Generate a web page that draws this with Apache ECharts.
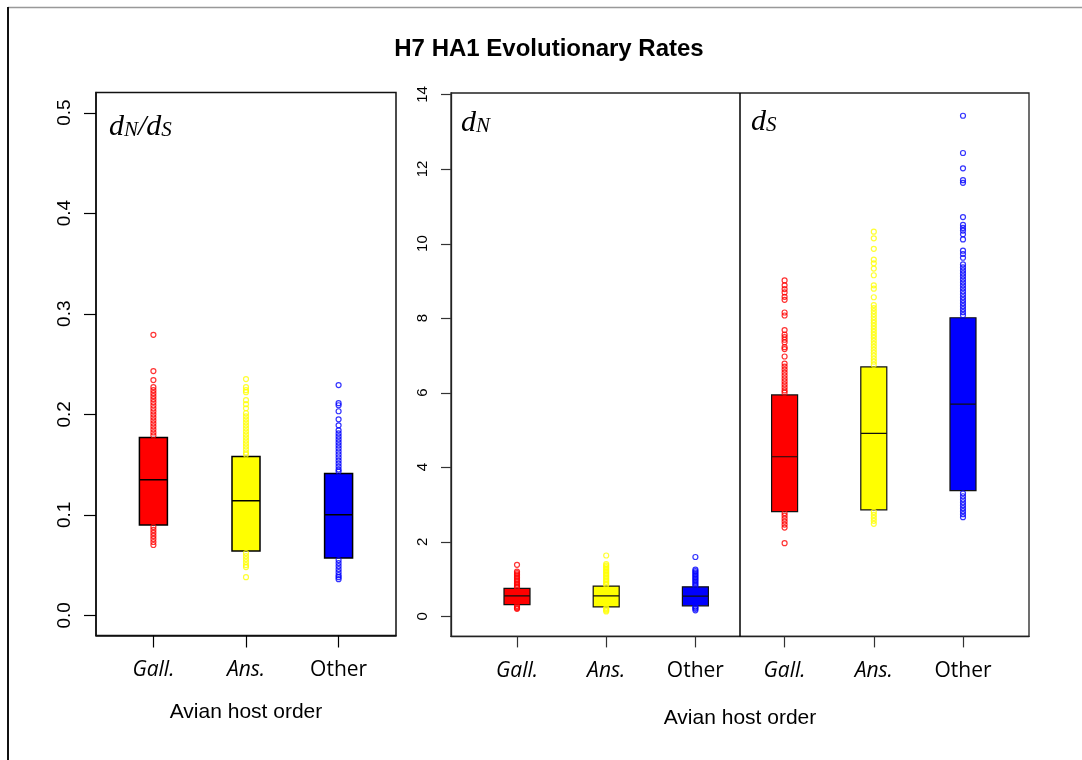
<!DOCTYPE html>
<html>
<head>
<meta charset="utf-8">
<script src="https://cdn.jsdelivr.net/npm/echarts@6/dist/echarts.min.js"></script>
<style>
html,body{margin:0;padding:0;background:#fff;}
#chart{width:1082px;height:760px;}
</style>
</head>
<body>
<div id="chart"></div>
<script>
// ---------- data ----------
const groups = ['Gall.', 'Ans.', 'Other'];
const groupItalic = [true, true, false];
const colors = ['#FF0000', '#FFFF00', '#0000FF'];

// dN/dS boxes: [Q1, median, Q3]
const ratioBoxes = [[0.090, 0.135, 0.177], [0.064, 0.114, 0.158], [0.057, 0.100, 0.141]];
const ratioOutGall = [0.279, 0.243, 0.234, 0.227, 0.224, 0.221, 0.218, 0.215, 0.212, 0.209, 0.206, 0.203, 0.200, 0.197, 0.194, 0.191, 0.188, 0.185, 0.182, 0.179,
  0.088, 0.085, 0.082, 0.079, 0.076, 0.073, 0.070];
const ratioOutAns = [0.235, 0.227, 0.224, 0.222, 0.214, 0.210, 0.206, 0.201, 0.198, 0.195, 0.192, 0.189, 0.186, 0.183, 0.180, 0.177, 0.174, 0.171, 0.168, 0.165, 0.162, 0.160,
  0.062, 0.059, 0.056, 0.053, 0.050, 0.048, 0.038];
const ratioOutOther = [0.229, 0.211, 0.209, 0.203, 0.195, 0.189, 0.184, 0.181, 0.178, 0.175, 0.172, 0.169, 0.166, 0.163, 0.160, 0.157, 0.154, 0.151, 0.148, 0.145, 0.143,
  0.055, 0.052, 0.049, 0.046, 0.043, 0.040, 0.038, 0.036];

// dN boxes
const dnBoxes = [[0.31, 0.55, 0.75], [0.25, 0.55, 0.81], [0.28, 0.54, 0.79]];
const dnOutGall = [1.38, 1.20, 1.16, 1.12, 1.08, 1.04, 1.00, 0.96, 0.92, 0.88, 0.84, 0.80, 0.77, 0.28, 0.25, 0.22, 0.20];
const dnOutAns = [1.63, 1.40, 1.36, 1.32, 1.28, 1.24, 1.20, 1.16, 1.12, 1.08, 1.04, 1.00, 0.96, 0.92, 0.88, 0.84, 0.22, 0.19, 0.16, 0.13];
const dnOutOther = [1.59, 1.25, 1.21, 1.17, 1.13, 1.09, 1.05, 1.01, 0.97, 0.93, 0.89, 0.85, 0.81, 0.26, 0.23, 0.20, 0.16];

// dS boxes
const dsBoxes = [[2.81, 4.28, 5.94], [2.855, 4.91, 6.69], [3.37, 5.69, 8.01]];
const dsOutGall = [9.01, 8.88, 8.78, 8.69, 8.57, 8.49, 8.15, 8.07, 7.68, 7.56, 7.49, 7.42, 7.35, 7.22, 7.17, 6.97,
  6.78, 6.70, 6.62, 6.54, 6.46, 6.38, 6.30, 6.22, 6.14, 6.06, 6.00, 2.77, 2.70, 2.62, 2.54, 2.46, 2.38, 1.96];
const dsOutAns = [10.32, 10.14, 9.86, 9.57, 9.47, 9.33, 9.15, 8.88, 8.79, 8.56, 8.35, 8.27, 8.19, 8.11, 8.03, 7.95, 7.87, 7.79, 7.71, 7.63,
  7.55, 7.47, 7.39, 7.31, 7.23, 7.15, 7.07, 6.99, 6.91, 6.83, 6.75, 2.80, 2.72, 2.64, 2.56, 2.48];
const dsOutOther = [13.43, 12.43, 12.02, 11.70, 11.63, 10.71, 10.50, 10.42, 10.35, 10.25, 10.11, 9.81, 9.72, 9.62,
  9.44, 9.36, 9.28, 9.20, 9.12, 9.04, 8.96, 8.88, 8.80, 8.72, 8.64, 8.56, 8.48, 8.40, 8.32, 8.24, 8.16, 8.08,
  3.30, 3.22, 3.14, 3.06, 2.98, 2.90, 2.82, 2.74, 2.66];

const ratioTicks = [0, 0.1, 0.2, 0.3, 0.4, 0.5];
const rateTicks = [0, 2, 4, 6, 8, 10, 12, 14];
const leftPositions = [1, 2, 3];
const rightPositions = [1, 2, 3, 4, 5, 6];
const leftRange = [0.38, 3.62];
const rightRange = [0.26, 6.74];

// ---------- build ----------
function boxItems(boxes, offset) {
  return boxes.map((b, i) => ({
    value: [i + 1 + offset, b[0], b[0], b[1], b[2], b[2]],
    itemStyle: { color: colors[i] }
  }));
}
function outPoints(list, x) { return list.map(v => [x, v]); }
function outSeries(list, x, color, xi, yi, extra) {
  return Object.assign({
    type: 'scatter', xAxisIndex: xi, yAxisIndex: yi,
    symbol: 'circle', symbolSize: 5,
    itemStyle: { color: 'rgba(0,0,0,0)', borderColor: color, borderWidth: 1.2 },
    data: outPoints(list, x), silent: true, z: 3
  }, extra || {});
}
// y-axis tick marks, positioned through the axis scale at each tick value
function yTickSeries(ticks, xMin, xi, yi, len, color) {
  return {
    type: 'custom', xAxisIndex: xi, yAxisIndex: yi, silent: true, clip: false, z: 4,
    data: ticks.map(v => [xMin, v]),
    renderItem: function (params, api) {
      const p = api.coord([api.value(0), api.value(1)]);
      const y = Math.round(p[1]) + 0.5;
      return {
        type: 'line',
        shape: { x1: p[0] - len, y1: y, x2: p[0], y2: y },
        style: { stroke: color, lineWidth: 1.2 }
      };
    }
  };
}

const catLabel = {
  fontFamily: 'Open Sans', fontSize: 21, color: '#000', margin: 24,
  formatter: function (v) {
    const i = (Math.round(v) - 1) % 3;
    return groupItalic[i] ? '{i|' + groups[i] + '}' : '{r|' + groups[i] + '}';
  },
  rich: {
    i: { fontFamily: 'Open Sans', fontSize: 21, fontStyle: 'italic', color: '#000' },
    r: { fontFamily: 'Open Sans', fontSize: 21, color: '#000' }
  }
};
const panelRich = {
  d: { fontFamily: 'Liberation Serif', fontStyle: 'italic', fontSize: 30, fill: '#000', verticalAlign: 'bottom' },
  s: { fontFamily: 'Liberation Serif', fontStyle: 'italic', fontSize: 21, fill: '#000', verticalAlign: 'bottom', padding: [0, 0, 1, 0] }
};

const chart = echarts.init(document.getElementById('chart'), null, { renderer: 'canvas' });
const option = {
  animation: false,
  backgroundColor: '#fff',
  title: {
    text: 'H7 HA1 Evolutionary Rates',
    left: 549, top: 37, textAlign: 'center', padding: 0,
    textStyle: { fontFamily: 'Liberation Sans', fontWeight: 'bold', fontSize: 24, color: '#000' }
  },
  grid: [
    { left: 96, top: 92.5, width: 300, height: 543, show: true, borderColor: '#111', borderWidth: 1.5 },
    { left: 451, top: 93, width: 578, height: 543.4, show: true, borderColor: '#222', borderWidth: 1.3 }
  ],
  xAxis: [
    {
      type: 'value', gridIndex: 0, min: leftRange[0], max: leftRange[1],
      splitLine: { show: false }, axisLine: { show: true, onZero: false, lineStyle: { color: '#111', width: 1.5 } },
      axisTick: { show: true, inside: false, length: 12, customValues: leftPositions, lineStyle: { color: '#000', width: 1.2 } },
      axisLabel: Object.assign({ customValues: leftPositions }, catLabel),
      name: 'Avian host order', nameLocation: 'middle', nameGap: 66,
      nameTextStyle: { fontFamily: 'Liberation Sans', fontSize: 21, color: '#000' }
    },
    {
      type: 'value', gridIndex: 1, min: rightRange[0], max: rightRange[1],
      splitLine: { show: false }, axisLine: { show: true, onZero: false, lineStyle: { color: '#222', width: 1.3 } },
      axisTick: { show: true, inside: false, length: 11, customValues: rightPositions, lineStyle: { color: '#333', width: 1.2 } },
      axisLabel: Object.assign({ customValues: rightPositions }, catLabel),
      name: 'Avian host order', nameLocation: 'middle', nameGap: 71,
      nameTextStyle: { fontFamily: 'Liberation Sans', fontSize: 21, color: '#000' }
    }
  ],
  yAxis: [
    {
      type: 'value', gridIndex: 0, min: -0.02, max: 0.52,
      splitLine: { show: false }, axisLine: { show: true, onZero: false, lineStyle: { color: '#111', width: 1.5 } },
      axisTick: { show: false },
      axisLabel: {
        show: true, customValues: ratioTicks, rotate: 90, margin: 22,
        fontFamily: 'Liberation Sans', fontSize: 19, color: '#000',
        formatter: v => v.toFixed(1)
      }
    },
    {
      type: 'value', gridIndex: 1, min: -0.54, max: 14.04,
      splitLine: { show: false }, axisLine: { show: true, onZero: false, lineStyle: { color: '#222', width: 1.3 } },
      axisTick: { show: false },
      axisLabel: {
        show: true, customValues: rateTicks, rotate: 90, margin: 21,
        fontFamily: 'Liberation Sans', fontSize: 15, color: '#000',
        formatter: v => String(Math.round(v))
      }
    }
  ],
  series: [
    {
      type: 'boxplot', xAxisIndex: 0, yAxisIndex: 0, layout: 'horizontal',
      boxWidth: [28, 28],
      itemStyle: { borderColor: '#000', borderWidth: 1.5 },
      data: boxItems(ratioBoxes, 0), silent: true, z: 2
    },
    outSeries(ratioOutGall, 1, colors[0], 0, 0),
    outSeries(ratioOutAns, 2, colors[1], 0, 0),
    outSeries(ratioOutOther, 3, colors[2], 0, 0),
    {
      type: 'boxplot', xAxisIndex: 1, yAxisIndex: 1, layout: 'horizontal',
      boxWidth: [26, 26],
      itemStyle: { borderColor: '#111', borderWidth: 1.2 },
      data: boxItems(dnBoxes, 0).concat(boxItems(dsBoxes, 3)), silent: true, z: 2
    },
    outSeries(dnOutGall, 1, colors[0], 1, 1, {
      markLine: {
        silent: true, symbol: 'none', label: { show: false },
        lineStyle: { color: '#000', type: 'solid', width: 1.5 },
        data: [{ xAxis: 3.5 }]
      }
    }),
    outSeries(dnOutAns, 2, colors[1], 1, 1),
    outSeries(dnOutOther, 3, colors[2], 1, 1),
    outSeries(dsOutGall, 4, colors[0], 1, 1),
    outSeries(dsOutAns, 5, colors[1], 1, 1),
    outSeries(dsOutOther, 6, colors[2], 1, 1),
    yTickSeries(ratioTicks, leftRange[0], 0, 0, 12, '#000'),
    yTickSeries(rateTicks, rightRange[0], 1, 1, 10, '#333')
  ],
  graphic: [
    { type: 'line', shape: { x1: 8, y1: 7.5, x2: 1082, y2: 7.5 }, style: { stroke: '#999', lineWidth: 1.5 }, silent: true },
    { type: 'line', shape: { x1: 8, y1: 7, x2: 8, y2: 760 }, style: { stroke: '#111', lineWidth: 2 }, silent: true },
    { type: 'text', x: 109, y: 142, silent: true, style: { text: '{d|d}{s|N}{d|/d}{s|S}', verticalAlign: 'bottom', rich: panelRich } },
    { type: 'text', x: 461, y: 138, silent: true, style: { text: '{d|d}{s|N}', verticalAlign: 'bottom', rich: panelRich } },
    { type: 'text', x: 751, y: 137, silent: true, style: { text: '{d|d}{s|S}', verticalAlign: 'bottom', rich: panelRich } }
  ]
};
chart.setOption(option);
</script>
</body>
</html>
